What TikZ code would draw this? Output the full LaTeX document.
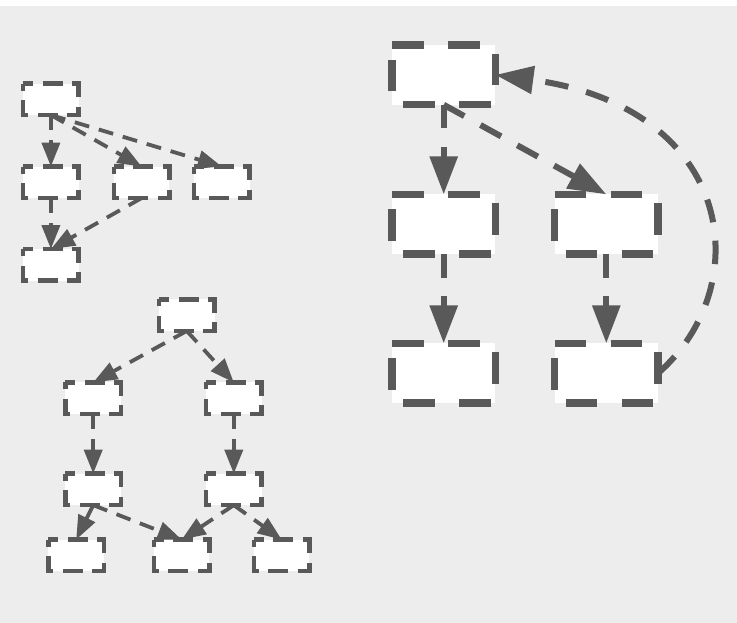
\documentclass[tikz,border=0pt]{standalone}
\usetikzlibrary{arrows.meta}
\definecolor{bg}{HTML}{EDEDED}
\definecolor{ln}{HTML}{595959}
\begin{document}
\begin{tikzpicture}[x=1pt,y=-1pt,
  sbox/.style={minimum width=55.5pt,minimum height=31.5pt,inner sep=0pt,outer sep=0pt,fill=white},
  bbox/.style={minimum width=103.5pt,minimum height=59.7pt,inner sep=0pt,outer sep=0pt,fill=white},
  sborder/.style={draw=ln,line width=4.5pt,dash pattern=on 20pt off 9.5pt,dash phase=10pt},
  bborder/.style={draw=ln,line width=7.3pt,dash pattern=on 31.7pt off 24.3pt},
  sedge/.style={draw=ln,line width=3.8pt,dash pattern=on 15pt off 10pt,-{Triangle[length=24pt,width=18pt]}},
  bedge/.style={draw=ln,line width=6pt,dash pattern=on 23.5pt off 18.5pt,-{Triangle[length=38pt,width=27pt]}},
]
\useasboundingbox (0,0) rectangle (737,623);
\fill[white] (0,0) rectangle (737,6);
\fill[bg] (0,6) rectangle (737,623);
% group 1
\node[sbox] (A) at (50.9,99.3) {};
\node[sbox] (B) at (50.9,182.3) {};
\node[sbox] (C) at (141.7,182.3) {};
\node[sbox] (D) at (221.8,182.3) {};
\node[sbox] (E) at (50.9,264.8) {};
% tree
\node[sbox] (R) at (186.8,315.2) {};
\node[sbox] (L1) at (93.2,398.2) {};
\node[sbox] (R1) at (233.8,398.2) {};
\node[sbox] (L2) at (93.2,489.4) {};
\node[sbox] (R2) at (233.8,489.4) {};
\node[sbox] (B1) at (76.2,555.3) {};
\node[sbox] (B2) at (181.7,555.3) {};
\node[sbox] (B3) at (281.7,555.3) {};
% big
\node[bbox] (P) at (443.7,74.9) {};
\node[bbox] (Q) at (443.7,224.2) {};
\node[bbox] (S) at (606.3,224.2) {};
\node[bbox] (T) at (443.7,373.2) {};
\node[bbox] (U) at (606.3,373.2) {};
% borders
\foreach \n in {A,B,C,D,E,R,L1,R1,L2,R2,B1,B2,B3}
  \draw[sborder] (\n.north west) -- (\n.north east) -- (\n.south east) -- (\n.south west) -- cycle;
\foreach \n in {P,Q,S,T,U}
  \draw[bborder] (\n.north west) -- (\n.north east) -- (\n.south east) -- (\n.south west) -- cycle;
% edges group 1
\draw[sedge] (A.south) -- (B.north);
\draw[sedge] (A.south) -- (C.north);
\draw[sedge] (A.south) -- (D.north);
\draw[sedge] (B.south) -- (E.north);
\draw[sedge] (C.south) -- (E.north);
% edges tree
\draw[sedge] (R.south) -- (L1.north);
\draw[sedge] (R.south) -- (R1.north);
\draw[sedge] (L1.south) -- (L2.north);
\draw[sedge] (R1.south) -- (R2.north);
\draw[sedge] (L2.south) -- (B1.north);
\draw[sedge] (L2.south) -- (B2.north);
\draw[sedge] (R2.south) -- (B2.north);
\draw[sedge] (R2.south) -- (B3.north);
% edges big
\draw[bedge] (P.south) -- (Q.north);
\draw[bedge] (P.south) -- (S.north);
\draw[bedge] (Q.south) -- (T.north);
\draw[bedge] (S.south) -- (U.north);
\draw[bedge] (U.east) .. controls (757.6,286) and (735.6,107.4) .. (P.east);
\end{tikzpicture}
\end{document}
